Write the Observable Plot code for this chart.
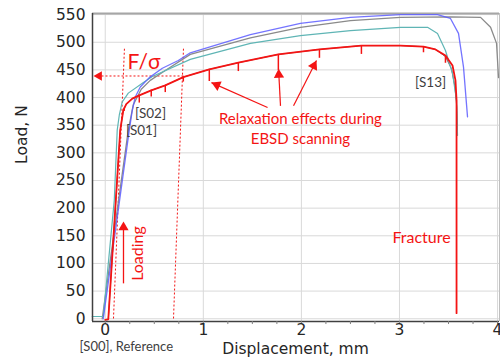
<!DOCTYPE html>
<html><head><meta charset="utf-8">
<script src="https://cdn.jsdelivr.net/npm/d3@7"></script>
<script src="https://cdn.jsdelivr.net/npm/@observablehq/plot@0.6"></script>
<style>
html,body{margin:0;padding:0;background:#fff;}
#chart svg{display:block;}
</style></head><body><div id="chart"></div>
<script>
// ---------- tick labels ----------
const xTicks = [0, 1, 2, 3, 4];
const xMinorTicks = [0, 0.25, 0.5, 0.75, 1, 1.25, 1.5, 1.75, 2, 2.25, 2.5, 2.75, 3, 3.25, 3.5, 3.75, 4];
const yTicks = [0, 50, 100, 150, 200, 250, 300, 350, 400, 450, 500, 550];

// ---------- series (displacement mm, load N) ----------
// red: interrupted test (EBSD scans) – base curve
const redDisp = [0, 0.031, 0.153, 0.184, 0.214, 0.276, 0.347, 0.469, 0.612, 0.796, 1.061, 1.357, 1.765, 2.184, 2.612, 3.010, 3.245, 3.367, 3.469, 3.541, 3.571, 3.582, 3.582];
const redLoad = [-2, -1, 341, 377, 388, 398, 404, 413, 422, 437, 451, 463, 478, 487, 494, 494, 492, 487, 476, 458, 431, 395, 10];
// relaxation drops on the red curve
const dropDisp  = [0.194, 0.347, 0.469, 0.612, 0.796, 1.061, 1.357, 1.765, 2.184, 2.612, 3.245, 3.469];
const dropLoad  = [381, 404, 413, 422, 437, 451, 463, 478, 487, 494, 492, 476];
const dropDepth = [6, 14, 12, 13, 9, 22, 16, 29, 16, 16, 11, 14];

// blue
const blueDisp = [-0.020, 0.245, 0.276, 0.306, 0.357, 0.449, 0.582, 0.745, 0.867, 1.480, 1.990, 2.500, 3.010, 3.388, 3.520, 3.602, 3.653, 3.694];
const blueLoad = [0, 341, 377, 401, 419, 436, 453, 467, 481, 514, 534, 545, 550, 550, 543, 516, 455, 365];
// gray (reference)
const grayDisp = [-0.031, 0.235, 0.286, 0.367, 0.459, 0.612, 0.867, 1.480, 1.990, 2.500, 3.010, 3.520, 3.827, 3.929, 3.990, 4.010];
const grayLoad = [0, 341, 387, 415, 431, 449, 478, 508, 527, 539, 545, 546, 545, 527, 498, 436];
// teal
const tealDisp = [-0.133, -0.020, 0.092, 0.122, 0.143, 0.173, 0.235, 0.378, 0.480, 0.867, 1.480, 1.990, 2.500, 3.010, 3.286, 3.388, 3.469, 3.541, 3.582, 3.592];
const tealLoad = [4, 4, 214, 341, 368, 392, 408, 426, 438, 469, 498, 512, 521, 527, 527, 516, 485, 444, 395, 332];
// dark gray [S13] – runs under the red curve, visible only near fracture
const s13Disp = [0.031, 0.153, 0.184, 0.214, 0.276, 0.347, 0.469, 0.612, 0.796, 1.061, 1.357, 1.765, 2.184, 2.612, 3.010, 3.245, 3.367, 3.469, 3.530, 3.565, 3.585, 3.592];
const s13Load = [-1, 341, 377, 388, 398, 404, 413, 422, 437, 451, 463, 478, 487, 494, 494, 492, 487, 474, 452, 420, 382, 332];

const zip = (xs, ys) => xs.map((x, i) => ({x, y: ys[i]}));
const drops = dropDisp.map((x, i) => ({x, y1: dropLoad[i], y2: dropLoad[i] - dropDepth[i]}));

const RED = "#f41414";
const W = 500, H = 364, mL = 92, mR = 1, mT = 13, mB = 43;
const xDom = [-0.13, 4.02], yDom = [-5, 552];
const kx = (W - mL - mR) / (xDom[1] - xDom[0]);
const ky = (H - mT - mB) / (yDom[1] - yDom[0]);

// filled triangular arrowhead whose tip sits at (x2,y2)
function head(x1, y1, x2, y2, r) {
  const px = (x2 - x1) * kx, py = -(y2 - y1) * ky;
  const L = Math.hypot(px, py), ux = px / L, uy = py / L;
  const ang = Math.atan2(ux, -uy) * 180 / Math.PI;
  const off = 1.555 * r;
  return Plot.dot([{x: x2, y: y2}], {x: "x", y: "y", symbol: "triangle", r, rotate: ang,
    fill: RED, stroke: "none", dx: -ux * off, dy: -uy * off});
}
const arrows = [
  {x1: 1.655, y1: 382, x2: 1.083, y2: 427},
  {x1: 1.787, y1: 385, x2: 1.767, y2: 452},
  {x1: 1.920, y1: 385, x2: 2.154, y2: 467}
];

const ann = {fontFamily: "Lato", fill: RED};

const plot = Plot.plot({
  width: W, height: H,
  marginLeft: mL, marginRight: mR, marginTop: mT, marginBottom: mB,
  x: {domain: xDom, axis: null},
  y: {domain: yDom, axis: null},
  style: {fontFamily: "DejaVu Sans", fontSize: "15.5px", background: "#fff", overflow: "visible"},
  marks: [
    // grid
    Plot.ruleX(xTicks, {x: d => d, stroke: "#d9d9d9", strokeWidth: 1}),
    Plot.ruleY(yTicks, {y: d => d, stroke: "#d9d9d9", strokeWidth: 1}),
    // frame top/right
    Plot.ruleY([yDom[1]], {y: d => d, stroke: "#a6a6a6", strokeWidth: 2}),
    Plot.ruleX([xDom[1]], {x: d => d, stroke: "#bfbfbf", strokeWidth: 1}),
    // dashed construction lines
    Plot.link([{x1: 0.084, y1: 0.4, x2: 0.196, y2: 490}, {x1: 0.696, y1: 0.4, x2: 0.798, y2: 490}],
      {x1: "x1", y1: "y1", x2: "x2", y2: "y2", stroke: RED, strokeWidth: 1, strokeDasharray: "2,2"}),
    Plot.link([{x1: 0.798, x2: -0.10, y: 439}], {x1: "x1", x2: "x2", y1: "y", y2: "y", stroke: RED, strokeWidth: 1, strokeDasharray: "2,2"}),
    head(0.798, 439, -0.12, 439, 3.6),
    // curves
    Plot.line(zip(s13Disp, s13Load), {x: "x", y: "y", stroke: "#404040", strokeWidth: 0.8}),
    Plot.line(zip(grayDisp, grayLoad), {x: "x", y: "y", stroke: "#8a8a8a", strokeWidth: 1.3}),
    Plot.line(zip(tealDisp, tealLoad), {x: "x", y: "y", stroke: "#5fb5b5", strokeWidth: 1.2}),
    Plot.line(zip(blueDisp, blueLoad), {x: "x", y: "y", stroke: "#5c5cff", strokeWidth: 1.3, strokeOpacity: 0.85}),
    Plot.line(zip(redDisp, redLoad), {x: "x", y: "y", stroke: RED, strokeWidth: 1.8}),
    Plot.ruleX(drops, {x: "x", y1: "y1", y2: "y2", stroke: RED, strokeWidth: 1.5}),
    // relaxation arrows
    Plot.link(arrows, {x1: "x1", y1: "y1", x2: "x2", y2: "y2", stroke: RED, strokeWidth: 1.2}),
    ...arrows.map(a => head(a.x1, a.y1, a.x2, a.y2, 3.8)),
    // loading arrow
    Plot.link([{x: 0.186, y1: 64, y2: 168}], {x1: "x", x2: "x", y1: "y1", y2: "y2", stroke: RED, strokeWidth: 1.3}),
    head(0.186, 64, 0.186, 176, 3.8),
    // axes lines
    Plot.ruleX([xDom[0]], {x: d => d, stroke: "#404040", strokeWidth: 1.5}),
    Plot.ruleY([yDom[0]], {y: d => d, stroke: "#404040", strokeWidth: 1.5}),
    Plot.ruleX(xMinorTicks, {x: d => d, y1: yDom[0], y2: yDom[0] - 5.5, stroke: "#7f7f7f", strokeWidth: 1}),
    // tick labels
    Plot.text(yTicks, {y: d => d, text: d => String(d), frameAnchor: "left", dx: -7, textAnchor: "end", fill: "#262626"}),
    Plot.text(xTicks, {x: d => d, text: d => String(d), frameAnchor: "bottom", dy: 13, fill: "#262626"}),
    // axis titles
    Plot.text(["Displacement, mm"], {x: 1.94, text: d => d, frameAnchor: "bottom", dy: 32, fill: "#262626"}),
    Plot.text(["Load, N"], {y: 280, text: d => d, frameAnchor: "left", dx: -70, rotate: -90, fill: "#262626"}),
    // annotations
    Plot.text(["[S00], Reference"], {text: d => d, frameAnchor: "bottom-left", dx: -13, dy: 29, fontFamily: "Lato", fontSize: 13, fill: "#404040"}),
    Plot.text(["F/σ"], {x: 0.395, y: 463, text: d => d, ...ann, fontSize: 21}),
    Plot.text(["[S02]"], {x: 0.461, y: 371, text: d => d, fontFamily: "Lato", fontSize: 13.5, fill: "#404040"}),
    Plot.text(["[S01]"], {x: 0.37, y: 340, text: d => d, fontFamily: "Lato", fontSize: 13.5, fill: "#404040"}),
    Plot.text(["[S13]"], {x: 3.317, y: 427, text: d => d, fontFamily: "Lato", fontSize: 13.5, fill: "#404040"}),
    Plot.text(["Relaxation effects during\nEBSD scanning"], {x: 1.99, y: 345, text: d => d, ...ann, fontSize: 15, lineHeight: 1.33}),
    Plot.text(["Loading"], {x: 0.329, y: 118, text: d => d, ...ann, fontSize: 16, rotate: -90}),
    Plot.text(["Fracture"], {x: 3.225, y: 147, text: d => d, ...ann, fontSize: 16})
  ]
});
document.getElementById("chart").appendChild(plot);
</script>
</body></html>
